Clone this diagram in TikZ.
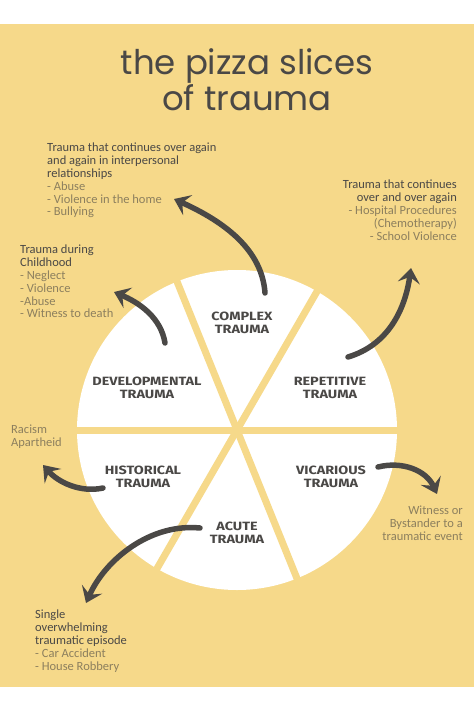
\documentclass[tikz,border=0pt]{standalone}
\usepackage{fontspec}
\usepackage{xcolor}
\usetikzlibrary{arrows.meta}
\setmainfont{Carlito}
\newfontfamily\titlefont{Poppins}
\newfontfamily\slicefont[FakeStretch=1.2]{Fira Sans}
\definecolor{pizza}{HTML}{F6D98A}
\definecolor{ink}{HTML}{4A4846}
\definecolor{softtxt}{HTML}{8C7F5E}
\newcommand\itm[1]{\textcolor{softtxt}{#1}}

\begin{document}
\begin{tikzpicture}[x=1pt,y=-1pt,
  slice/.style={font=\slicefont\bfseries\fontsize{12}{12.5}\selectfont, text=ink, align=center},
  note/.style={font=\fontsize{12.5}{12.8}\selectfont, text=ink, inner sep=0pt},
  curvearrow/.style={draw=ink, line width=5.5pt, line cap=round, -{Stealth[length=15pt,width=22pt,inset=6pt]}}]

\def\R{160}
\useasboundingbox (0,0) rectangle (474,711);
\fill[pizza] (0,24) rectangle (474,687);

\node[font=\titlefont\fontsize{34}{33}\selectfont, text=ink, align=center] (title) at (247,80) {the pizza slices\\of trauma};

\begin{scope}[shift={(237,430)}]
  \fill[white] (0,0) circle (\R);
  \foreach \a in {0,-60,-112} {
    \draw[pizza, line width=7pt] (\a:\R+2) -- (\a+180:\R+2);
  }
\end{scope}

\node[slice] (complex) at (242,323) {COMPLEX\\TRAUMA};
\node[slice] (develop) at (147,388) {DEVELOPMENTAL\\TRAUMA};
\node[slice] (repeat) at (330,388) {REPETITIVE\\TRAUMA};
\node[slice] (history) at (143,477) {HISTORICAL\\TRAUMA};
\node[slice] (vicar) at (331,477) {VICARIOUS\\TRAUMA};
\node[slice] (acute) at (237,533) {ACUTE\\TRAUMA};

\node[note, anchor=north west, align=left] (complexnote) at (47,143) {Trauma that continues over again\\and again in interpersonal\\relationships\\\itm{- Abuse}\\\itm{- Violence in the home}\\\itm{- Bullying}};
\node[note, anchor=north west, align=left] (developnote) at (20,245) {Trauma during\\Childhood\\\itm{- Neglect}\\\itm{- Violence}\\\itm{-Abuse}\\\itm{- Witness to death}};
\node[note, anchor=north east, align=right] (repeatnote) at (457,180) {Trauma that continues\\over and over again\\\itm{- Hospital Procedures}\\\itm{(Chemotherapy)}\\\itm{- School Violence}};
\node[note, anchor=north west, align=left] (historynote) at (11,425) {\itm{Racism}\\\itm{Apartheid}};
\node[note, anchor=north east, align=right] (vicarnote) at (463,506) {\itm{Witness or}\\\itm{Bystander to a}\\\itm{traumatic event}};
\node[note, anchor=north west, align=left] (acutenote) at (35,610) {Single\\overwhelming\\traumatic episode\\\itm{- Car Accident}\\\itm{- House Robbery}};

\coordinate (cxA) at (265,293);
\coordinate (cxB) at (174,199);
\coordinate (dvA) at (165,343);
\coordinate (dvB) at (114,292);
\coordinate (rpA) at (348,357);
\coordinate (rpB) at (411,268);
\coordinate (hsA) at (103,488);
\coordinate (hsB) at (43,465);
\coordinate (vcA) at (378,467);
\coordinate (vcB) at (437,494);
\coordinate (acA) at (200,528);
\coordinate (acB) at (86,603);

\draw[curvearrow] (cxA) .. controls (262,250) and (225,222) .. (cxB);
\draw[curvearrow] (dvA) .. controls (161,318) and (140,303) .. (dvB);
\draw[curvearrow] (rpA) .. controls (388,345) and (405,310) .. (rpB);
\draw[curvearrow] (hsA) .. controls (80,493) and (58,482) .. (hsB);
\draw[curvearrow] (vcA) .. controls (402,461) and (426,470) .. (vcB);
\draw[curvearrow] (acA) .. controls (150,523) and (105,560) .. (acB);

\end{tikzpicture}
\end{document}
